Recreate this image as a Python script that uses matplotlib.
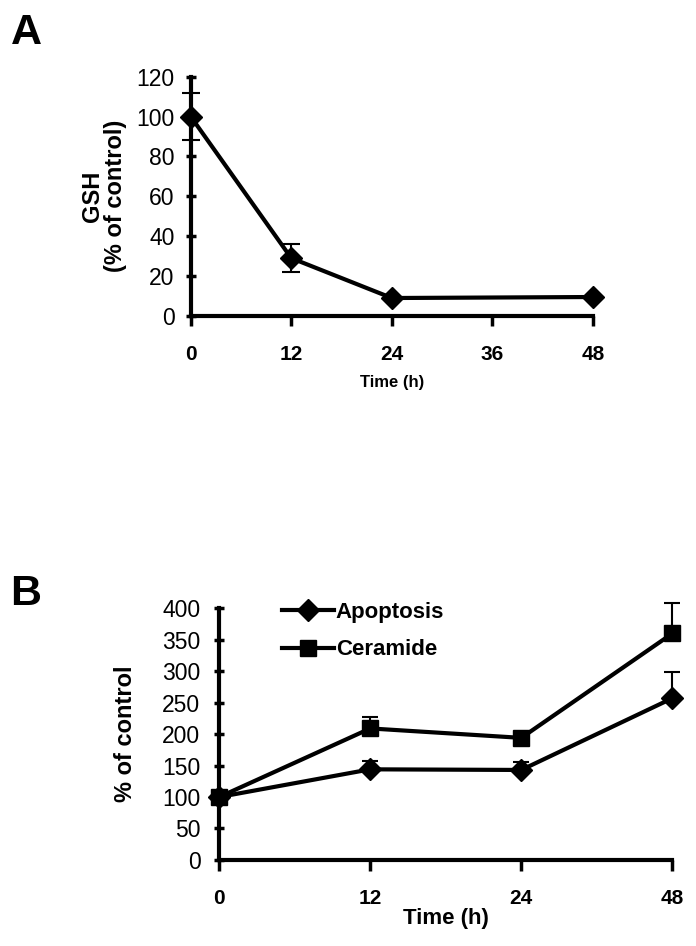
import numpy as np
import matplotlib
matplotlib.use("Agg")
import matplotlib.pyplot as plt
from matplotlib.lines import Line2D

plt.rcParams['font.family'] = ['Liberation Sans', 'DejaVu Sans']

# Panel A: GSH over time
time_a = [0, 12, 24, 48]
gsh = [100, 29, 9, 9.5]
gsh_err = [12, 7, 0, 0]

# Panel B: apoptosis and ceramide
time_b_labels = ['0', '12', '24', '48']
apoptosis = [100, 144, 143, 257]
apoptosis_err = [0, 13, 13, 42]
ceramide = [100, 209, 194, 360]
ceramide_err = [0, 18, 0, 48]

fig = plt.figure(figsize=(6.96, 9.46), dpi=100)

# ---- Panel A ----
axA = fig.add_axes([0.274, 0.666, 0.578, 0.253])
axA.errorbar(time_a, gsh, yerr=gsh_err, color='black', lw=3, marker='D',
             markersize=11, capsize=6.5, elinewidth=1.5, capthick=1.5, clip_on=False, zorder=3)
axA.set_xlim(0, 48)
axA.set_ylim(0, 120)
axA.set_xticks([0, 12, 24, 36, 48])
axA.set_yticks(range(0, 121, 20))
axA.set_xticklabels(['0', '12', '24', '36', '48'], fontweight='bold', fontsize=15)
axA.tick_params(axis='y', labelsize=16.5, width=2.5, length=7, direction='inout', pad=8)
axA.tick_params(axis='x', width=2.5, length=7, direction='out', pad=14)
for s in ['top', 'right']:
    axA.spines[s].set_visible(False)
for s in ['left', 'bottom']:
    axA.spines[s].set_linewidth(3)
axA.set_xlabel('Time (h)', fontweight='bold', fontsize=12, labelpad=8)
axA.set_ylabel('GSH\n(% of control)', fontweight='bold', fontsize=17, labelpad=7, linespacing=1.0)
fig.text(0.015, 0.953, 'A', fontsize=31, fontweight='bold')

# ---- Panel B ----
xb = np.arange(len(time_b_labels))
axB = fig.add_axes([0.315, 0.091, 0.651, 0.266])
axB.errorbar(xb, apoptosis, yerr=[np.zeros(4), apoptosis_err], color='black', lw=3,
             marker='D', markersize=11, capsize=5.5, elinewidth=1.5, capthick=1.5,
             clip_on=False, zorder=3)
axB.errorbar(xb, ceramide, yerr=[np.zeros(4), ceramide_err], color='black', lw=3,
             marker='s', markersize=12, capsize=5.5, elinewidth=1.5, capthick=1.5,
             clip_on=False, zorder=3)
axB.set_xlim(0, 3)
axB.set_ylim(0, 400)
axB.set_xticks(xb)
axB.set_xticklabels(time_b_labels, fontweight='bold', fontsize=15)
axB.set_yticks(range(0, 401, 50))
axB.tick_params(axis='y', labelsize=16.5, width=2.5, length=7, direction='inout', pad=10)
axB.tick_params(axis='x', width=2.5, length=8, direction='out', pad=13)
for s in ['top', 'right']:
    axB.spines[s].set_visible(False)
for s in ['left', 'bottom']:
    axB.spines[s].set_linewidth(3)
axB.set_xlabel('Time (h)', fontweight='bold', fontsize=16, labelpad=0)
axB.set_ylabel('% of control', fontweight='bold', fontsize=17, labelpad=18)
handles = [Line2D([], [], color='black', lw=3, marker='D', markersize=11),
           Line2D([], [], color='black', lw=3, marker='s', markersize=12)]
axB.legend(handles, ['Apoptosis', 'Ceramide'], loc='upper left',
           bbox_to_anchor=(0.115, 1.07), frameon=False, borderpad=0,
           prop={'weight': 'bold', 'size': 16}, handlelength=2.3,
           handletextpad=0.1, labelspacing=0.75)
fig.text(0.015, 0.36, 'B', fontsize=31, fontweight='bold')

fig.savefig('out.png', dpi=100, facecolor='white')
